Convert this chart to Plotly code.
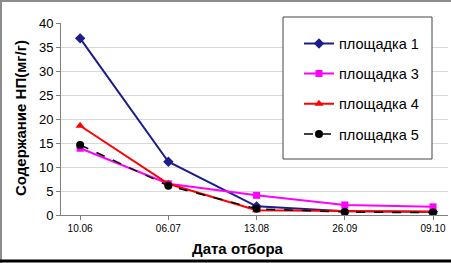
import plotly.graph_objects as go

dates = ["10.06", "06.07", "13.08", "26.09", "09.10"]
site1 = [36.8, 11.1, 1.8, 0.8, 0.7]
site3 = [13.9, 6.5, 4.1, 2.1, 1.7]
site4 = [18.6, 6.5, 1.0, 0.8, 0.7]
site5 = [14.6, 6.1, 1.3, 0.6, 0.5]
names = ["площадка 1", "площадка 3", "площадка 4", "площадка 5"]

xs = list(range(len(dates)))
W, H = 451, 263
L, R, T, B = 61, 448, 23, 215

def px(x):
    return (x - L) / (R - L)

def py(y):
    return (B - y) / (B - T)

fig = go.Figure()
styles = [
    (site1, "#1c1c8c", "diamond", 8, "solid", 2),
    (site3, "#ff00ff", "square", 7, "solid", 2),
    (site4, "#ff0000", "triangle-up", 8, "solid", 2),
    (site5, "#000000", "circle", 8, "dash", 1.5),
]
for i, (vals, col, sym, ms, dash, lw) in enumerate(styles):
    fig.add_trace(go.Scatter(
        x=xs, y=vals, name=names[i], mode="lines+markers",
        line=dict(color=col, width=lw, dash=dash),
        marker=dict(symbol=sym, size=ms, color=col),
        legendgroup=str(i),
    ))

fig.update_layout(
    width=W, height=H,
    margin=dict(l=L, r=W - R, t=T, b=H - B),
    paper_bgcolor="white", plot_bgcolor="white",
    font=dict(family="Liberation Sans, Arial, sans-serif", color="black"),
    showlegend=True,
    legend=dict(
        x=px(299), y=py(27.5), xanchor="left", yanchor="top",
        bgcolor="rgba(0,0,0,0)", borderwidth=0,
        font=dict(size=14.5, color="black"),
        traceorder="grouped", tracegroupgap=8.3,
    ),
    xaxis=dict(
        range=[-0.217, 4.17], tickvals=xs, ticktext=dates,
        showgrid=False, zeroline=False,
        showline=True, linecolor="#808080", linewidth=1,
        ticks="outside", ticklen=4, tickcolor="#808080",
        tickfont=dict(size=10, color="black"),
    ),
    yaxis=dict(
        range=[0, 40], tickvals=[0, 5, 10, 15, 20, 25, 30, 35, 40],
        showgrid=True, gridcolor="#d9d9d9", gridwidth=1, zeroline=False,
        showline=True, linecolor="#808080", linewidth=1,
        ticks="outside", ticklen=4, tickcolor="#808080",
        tickfont=dict(size=13, color="black"),
    ),
    annotations=[
        dict(text="<b>Содержание НП(мг/г)</b>", textangle=-90,
             xref="paper", yref="paper", x=px(20), y=py(118),
             xanchor="center", yanchor="middle", showarrow=False,
             font=dict(size=15, color="black")),
        dict(text="<b>Дата отбора</b>",
             xref="paper", yref="paper", x=px(238), y=py(248),
             xanchor="center", yanchor="middle", showarrow=False,
             font=dict(size=15, color="black")),
    ],
    shapes=[
        dict(type="rect", xref="paper", yref="paper", layer="above",
             x0=px(283), x1=px(432), y0=py(159), y1=py(17),
             line=dict(color="#444444", width=1), fillcolor="white"),
        dict(type="line", xref="paper", yref="paper", x0=px(0), x1=px(451), y0=py(1), y1=py(1),
             line=dict(color="#8c8c8c", width=2)),
        dict(type="line", xref="paper", yref="paper", x0=px(1), x1=px(1), y0=py(0), y1=py(263),
             line=dict(color="#8c8c8c", width=2)),
        dict(type="line", xref="paper", yref="paper", x0=px(0), x1=px(451), y0=py(261), y1=py(261),
             line=dict(color="#000000", width=3)),
    ],
)

fig.write_html("out.html")
